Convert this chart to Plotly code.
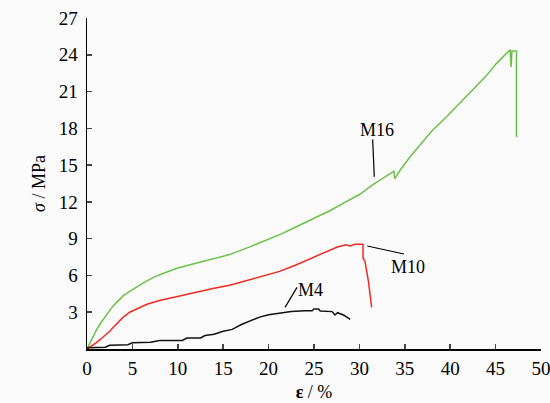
import plotly.graph_objects as go

# M16 (green)
m16_x = [0, 0.5, 1, 1.5, 2, 2.5, 3, 3.5, 4, 4.7, 5, 6, 6.6, 7.5, 8.5, 10, 12, 14, 15.7, 18, 20,
         21.3, 23, 25, 26.8, 28, 30, 31.5, 32.5, 33.5, 33.8, 33.9, 34.5, 35.5, 36.7, 38, 39.6,
         41, 42.5, 44, 45.1, 46.2, 46.6, 46.7, 46.8, 47.3, 47.3]
m16_y = [0, 0.8, 1.5, 2.1, 2.65, 3.15, 3.6, 4.0, 4.35, 4.7, 4.85, 5.3, 5.55, 5.9, 6.2, 6.6, 7.0, 7.4,
         7.7, 8.35, 8.95, 9.35, 9.95, 10.65, 11.3, 11.8, 12.6, 13.4, 13.9, 14.4, 14.5, 13.9, 14.6, 15.6,
         16.7, 17.8, 18.95, 20.0, 21.1, 22.3, 23.3, 24.1, 24.4, 23.0, 24.3, 24.3, 17.3]

# M10 (red)
m10_x = [0, 0.5, 1, 1.5, 2, 2.5, 3, 3.5, 4, 4.7, 5.5, 6.6, 8, 10, 12, 14, 15.7, 18, 20, 21.3, 23,
         25, 27.5, 28.5, 29, 29.5, 30.4, 30.4, 30.6, 31.0, 31.35]
m10_y = [0, 0.22, 0.5, 0.8, 1.1, 1.45, 1.85, 2.25, 2.6, 3.0, 3.3, 3.65, 3.95, 4.3, 4.6, 4.95, 5.2,
         5.65, 6.05, 6.35, 6.85, 7.5, 8.3, 8.5, 8.4, 8.55, 8.55, 7.4, 7.2, 5.5, 3.4]

# M4 (black)
m4_x = [0, 1, 2, 2.5, 4.5, 5, 7, 8, 10.5, 11, 12.5, 13, 14, 15, 16, 17, 18, 19, 20, 21.5, 22.5,
        24, 24.8, 25, 25.5, 25.7, 26.6, 27, 27.3, 27.6, 28.3, 29]
m4_y = [0.1, 0.1, 0.15, 0.3, 0.35, 0.5, 0.55, 0.7, 0.7, 0.9, 0.9, 1.1, 1.2, 1.45, 1.6, 2.0, 2.3,
        2.6, 2.8, 2.95, 3.05, 3.12, 3.12, 3.26, 3.26, 3.1, 3.1, 3.05, 2.77, 2.96, 2.75, 2.42]

x_ticks = [0, 5, 10, 15, 20, 25, 30, 35, 40, 45, 50]
y_ticks = [3, 6, 9, 12, 15, 18, 21, 24, 27]

FONT = "Liberation Serif"

fig = go.Figure()
fig.add_trace(go.Scatter(x=m16_x, y=m16_y, mode="lines", line=dict(color="#6cc04a", width=1.5),
                         name="M16", showlegend=False, cliponaxis=False))
fig.add_trace(go.Scatter(x=m10_x, y=m10_y, mode="lines", line=dict(color="#ee2a24", width=1.5),
                         name="M10", showlegend=False, cliponaxis=False))
fig.add_trace(go.Scatter(x=m4_x, y=m4_y, mode="lines", line=dict(color="#111111", width=1.5),
                         name="M4", showlegend=False, cliponaxis=False))

# label pointers
for (x0, y0, x1, y1) in [(31.46, 17.1, 31.64, 14.05), (30.87, 8.40, 34.91, 7.75), (23.13, 5.03, 21.81, 3.40)]:
    fig.add_shape(type="line", x0=x0, y0=y0, x1=x1, y1=y1, xref="x", yref="y",
                  line=dict(color="black", width=1.2))

for (tx, ty, txt) in [(31.9, 17.9, "M16"), (35.4, 6.7, "M10"), (24.6, 4.85, "M4")]:
    fig.add_annotation(x=tx, y=ty, text=txt, showarrow=False, xref="x", yref="y",
                       font=dict(family=FONT, size=18, color="black"))

fig.update_layout(
    width=550, height=403,
    margin=dict(l=87, r=9, t=18, b=54, autoexpand=False),
    paper_bgcolor="#fafafa", plot_bgcolor="#fafafa",
    font=dict(family=FONT, size=19, color="black"),
    hovermode=False,
    xaxis=dict(range=[0, 50], tickvals=x_ticks, ticks="inside", ticklen=5, tickwidth=1.5,
               showline=True, linecolor="black", linewidth=1.5, showgrid=False, zeroline=False,
               automargin=False, ticklabelstandoff=2, ticklabeloverflow="allow",
               title=dict(text="<b>ε</b> / %", font=dict(family=FONT, size=18), standoff=7)),
    yaxis=dict(range=[0, 27], tickvals=y_ticks, ticks="inside", ticklen=5, tickwidth=1.5,
               showline=True, linecolor="black", linewidth=1.5, showgrid=False, zeroline=False,
               automargin=False, ticklabelstandoff=4, ticklabeloverflow="allow",
               title=dict(text="<i>σ</i> / MPa", font=dict(family=FONT, size=18), standoff=8)),
)

fig.write_html("out.html", config={"displayModeBar": False, "staticPlot": True},
               post_script="document.body.style.margin='0';document.body.style.overflow='hidden';")
